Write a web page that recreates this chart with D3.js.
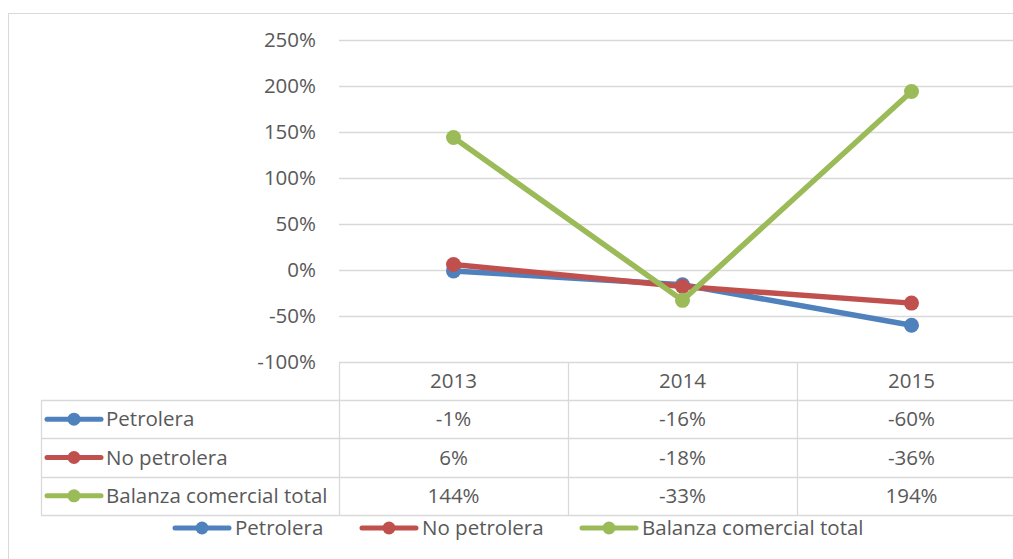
<!DOCTYPE html>
<html>
<head>
<meta charset="utf-8">
<script src="https://cdn.jsdelivr.net/npm/d3@7"></script>
<style>
  body { margin: 0; background: #fff; }
  svg text { font-family: "Open Sans", "Liberation Sans", sans-serif; fill: #595959; }
</style>
</head>
<body>
<div id="canvas"></div>
<script>
"use strict"

// data
let years = ["2013", "2014", "2015"];
let seriesNames = ["Petrolera", "No petrolera", "Balanza comercial total"];
let petrolera = [-1, -16, -60];
let noPetrolera = [6, -18, -36];
let balanza = [144, -33, 194];
let yTicks = [-100, -50, 0, 50, 100, 150, 200, 250];
let colors = ["#4F81BD", "#C0504D", "#9BBB59"];

let seriesValues = [petrolera, noPetrolera, balanza];
let fontSize = 20.5;

let drawing = d3.select("#canvas")
    .append("svg")
    .attr("width", 1013)
    .attr("height", 559);

/* outer chart frame */
drawing.append("rect")
    .attr("x", 8.5)
    .attr("y", 13.5)
    .attr("width", 1100)
    .attr("height", 600)
    .attr("fill", "none")
    .attr("stroke", "#d9d9d9");

let x = d3.scaleBand().domain(years).range([339, 1026]);
let y = d3.scaleLinear().domain([-100, 250]).range([362, 40]);
let rowY = d3.scaleBand().domain(seriesNames).range([400, 515]);

/* gridlines */
drawing.append("g")
    .selectAll("line")
    .data(yTicks)
    .join("line")
    .attr("x1", 339)
    .attr("x2", 1026)
    .attr("y1", d => Math.round(y(d)) + 0.5)
    .attr("y2", d => Math.round(y(d)) + 0.5)
    .attr("stroke", "#d9d9d9")
    .attr("stroke-width", 1.3);

/* y axis labels */
let yAxis = drawing.append("g")
    .attr("transform", "translate(339,0)")
    .call(d3.axisLeft(y).tickValues(yTicks).tickSize(0).tickPadding(23).tickFormat(d => d + "%"));
yAxis.select(".domain").remove();
yAxis.selectAll("text")
    .attr("font-size", fontSize)
    .attr("font-family", null)
    .attr("fill", null);

/* data table grid */
let table = drawing.append("g");

// vertical lines between columns
table.selectAll("line.v")
    .data(x.domain().concat(["end"]))
    .join("line")
    .attr("class", "v")
    .attr("x1", (d, i) => Math.round(339 + i * x.bandwidth()) + 0.5)
    .attr("x2", (d, i) => Math.round(339 + i * x.bandwidth()) + 0.5)
    .attr("y1", 362)
    .attr("y2", 515)
    .attr("stroke", "#d9d9d9")
    .attr("stroke-width", 1.3);

// horizontal row lines
table.selectAll("line.h")
    .data(seriesNames.concat(["end"]))
    .join("line")
    .attr("class", "h")
    .attr("x1", 41)
    .attr("x2", 1026)
    .attr("y1", (d, i) => Math.round(400 + i * rowY.bandwidth()) + 0.5)
    .attr("y2", (d, i) => Math.round(400 + i * rowY.bandwidth()) + 0.5)
    .attr("stroke", "#d9d9d9")
    .attr("stroke-width", 1.3);

// left edge of table
table.append("line")
    .attr("x1", 41.5)
    .attr("x2", 41.5)
    .attr("y1", 400)
    .attr("y2", 515)
    .attr("stroke", "#d9d9d9")
    .attr("stroke-width", 1.3);

// year header
table.selectAll("text.year")
    .data(years)
    .join("text")
    .attr("class", "year")
    .attr("x", d => x(d) + x.bandwidth() / 2)
    .attr("y", 381)
    .attr("dy", "0.35em")
    .attr("text-anchor", "middle")
    .attr("font-size", fontSize)
    .text(d => d);

// value cells
seriesNames.forEach(function (name, s) {
    table.selectAll("text.cell" + s)
        .data(seriesValues[s])
        .join("text")
        .attr("class", "cell" + s)
        .attr("x", (d, i) => x(years[i]) + x.bandwidth() / 2)
        .attr("y", rowY(name) + rowY.bandwidth() / 2)
        .attr("dy", "0.35em")
        .attr("text-anchor", "middle")
        .attr("font-size", fontSize)
        .text(d => d + "%");
});

/* small legend key: line with dot */
function legendKey(g, cx, cy, color) {
    g.append("line")
        .attr("x1", cx - 27)
        .attr("x2", cx + 27)
        .attr("y1", cy)
        .attr("y2", cy)
        .attr("stroke", color)
        .attr("stroke-width", 5)
        .attr("stroke-linecap", "round");
    g.append("circle")
        .attr("cx", cx)
        .attr("cy", cy)
        .attr("r", 6.5)
        .attr("fill", color);
}

// row labels with keys
seriesNames.forEach(function (name, s) {
    let cy = rowY(name) + rowY.bandwidth() / 2;
    legendKey(table, 74, cy, colors[s]);
    table.append("text")
        .attr("x", 106)
        .attr("y", cy)
        .attr("dy", "0.35em")
        .attr("font-size", fontSize)
        .text(name);
});

/* lines and markers */
let line = d3.line()
    .x((d, i) => x(years[i]) + x.bandwidth() / 2)
    .y(d => y(d));

seriesValues.forEach(function (vals, s) {
    let g = drawing.append("g");
    g.append("path")
        .attr("d", line(vals))
        .attr("fill", "none")
        .attr("stroke", colors[s])
        .attr("stroke-width", 5.5)
        .attr("stroke-linejoin", "round");
    g.selectAll("circle")
        .data(vals)
        .join("circle")
        .attr("cx", (d, i) => x(years[i]) + x.bandwidth() / 2)
        .attr("cy", d => y(d))
        .attr("r", 7.5)
        .attr("fill", colors[s]);
});

/* bottom legend */
let legend = drawing.append("g");
let legendX = [202, 389, 609];
seriesNames.forEach(function (name, s) {
    legendKey(legend, legendX[s], 528, colors[s]);
    legend.append("text")
        .attr("x", legendX[s] + 33)
        .attr("y", 528)
        .attr("dy", "0.35em")
        .attr("font-size", fontSize)
        .text(name);
});
</script>
</body>
</html>
